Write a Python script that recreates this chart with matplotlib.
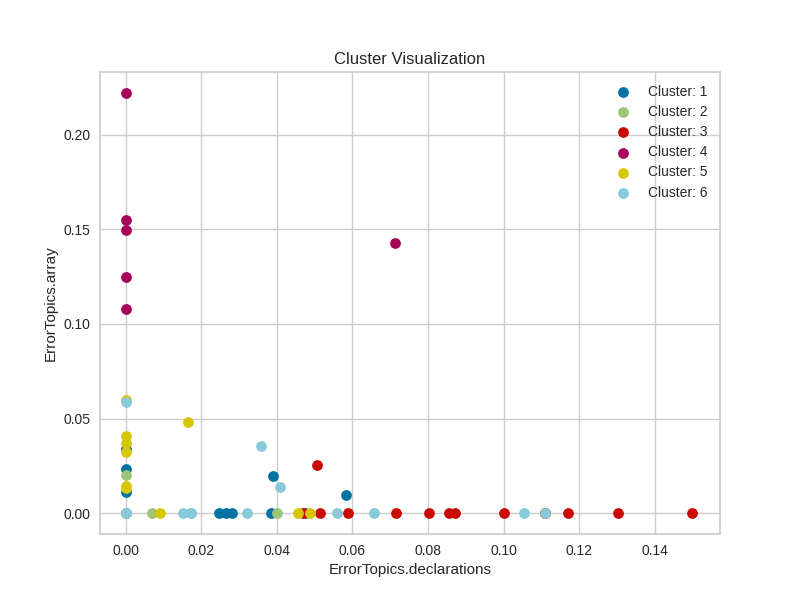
import matplotlib
matplotlib.use("Agg")
import matplotlib.pyplot as plt

# cluster colours (yellowbrick palette)
colors = ["#0272a2", "#9fc377", "#ca0b03", "#a50258", "#d7c703", "#88cada"]
labels = ["Cluster: 1", "Cluster: 2", "Cluster: 3", "Cluster: 4", "Cluster: 5", "Cluster: 6"]

# ErrorTopics.declarations / ErrorTopics.array per cluster
c1_x = [0.0, 0.0, 0.0, 0.0, 0.0247, 0.0265, 0.0282, 0.0385, 0.039, 0.0475, 0.0583, 0.1111]
c1_y = [0.0337, 0.0233, 0.0113, 0.0, 0.0, 0.0, 0.0, 0.0, 0.0194, 0.0, 0.0093, 0.0]
c2_x = [0.0, 0.0, 0.007, 0.0174, 0.0401]
c2_y = [0.020, 0.0, 0.0, 0.0, 0.0]
c3_x = [0.047, 0.0507, 0.0515, 0.0589, 0.0715, 0.0802, 0.0857, 0.0872, 0.1001, 0.1111,
        0.1170, 0.1303, 0.15]
c3_y = [0.0, 0.0252, 0.0, 0.0, 0.0, 0.0, 0.0, 0.0, 0.0, 0.0, 0.0, 0.0, 0.0]
c4_x = [0.0, 0.0, 0.0, 0.0, 0.0, 0.0714]
c4_y = [0.2222, 0.1549, 0.1497, 0.1247, 0.1079, 0.1429]
c5_x = [0.0, 0.0, 0.0, 0.0, 0.0, 0.0, 0.009, 0.0164, 0.0457, 0.0488]
c5_y = [0.060, 0.041, 0.0369, 0.0323, 0.0145, 0.013, 0.0, 0.048, 0.0, 0.0]
c6_x = [0.0, 0.0, 0.0152, 0.0174, 0.0322, 0.0359, 0.0409, 0.0558, 0.0658, 0.1054, 0.1111]
c6_y = [0.0586, 0.0, 0.0, 0.0, 0.0, 0.0354, 0.0136, 0.0, 0.0, 0.0, 0.0]

xs = [c1_x, c2_x, c3_x, c4_x, c5_x, c6_x]
ys = [c1_y, c2_y, c3_y, c4_y, c5_y, c6_y]

plt.rcParams['font.family'] = ['Liberation Sans', 'DejaVu Sans']
plt.rcParams['text.color'] = '#262626'
plt.rcParams['axes.labelcolor'] = '#262626'
plt.rcParams['xtick.color'] = '#262626'
plt.rcParams['ytick.color'] = '#262626'

fig, ax = plt.subplots(figsize=(8, 6), dpi=100)
ax.set_facecolor('white')

for x, y, c, lab in zip(xs, ys, colors, labels):
    ax.scatter(x, y, s=60, c=c, label=lab, linewidths=0, zorder=3)

ax.grid(True, color='#cccccc', linewidth=1.0, zorder=0)
ax.set_axisbelow(True)
for sp in ax.spines.values():
    sp.set_color('#cccccc')
    sp.set_linewidth(1.25)
ax.tick_params(length=0, labelsize=10, pad=7)

ax.set_xlim(-0.0068, 0.1573)
ax.set_ylim(-0.0111, 0.2333)
ax.set_xticks([0.0, 0.02, 0.04, 0.06, 0.08, 0.10, 0.12, 0.14])
ax.set_yticks([0.0, 0.05, 0.10, 0.15, 0.20])

ax.set_title('Cluster Visualization', fontsize=12)
ax.set_xlabel('ErrorTopics.declarations', fontsize=11)
ax.set_ylabel('ErrorTopics.array', fontsize=11)

ax.legend(loc='upper right', frameon=False, fontsize=10, scatterpoints=1,
          labelspacing=0.45)

fig.savefig('out.png', dpi=100)
